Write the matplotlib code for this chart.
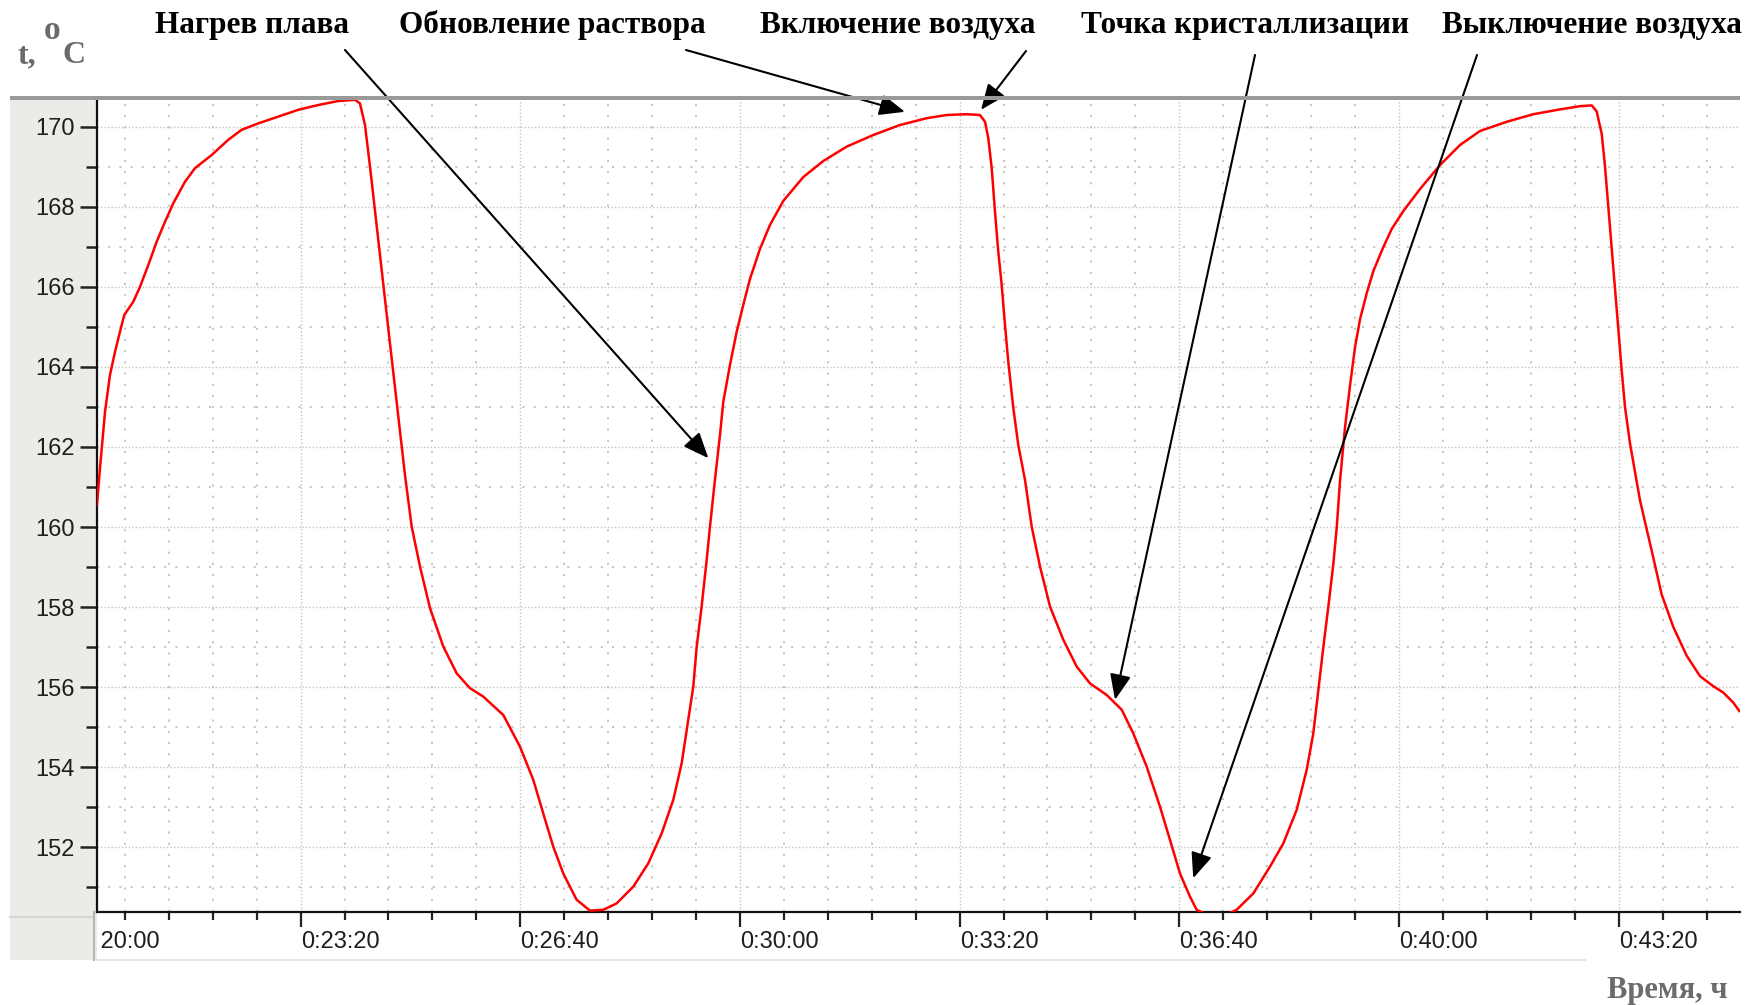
import matplotlib
matplotlib.use("Agg")
import matplotlib.pyplot as plt
from matplotlib.patches import Rectangle
from matplotlib.lines import Line2D
from matplotlib.transforms import Bbox, TransformedBbox, ScaledTranslation, blended_transform_factory

# temperature record of the melt, time in seconds from 0:00:00
time_sec = [
    1214.6, 1217.3, 1221.9, 1226.4, 1231.0, 1235.5, 1239.4, 1247.6, 1253.7, 1261.3,
    1268.9, 1276.5, 1284.0, 1294.7, 1303.8, 1319.0, 1334.1, 1346.3, 1361.4, 1379.6,
    1397.9, 1416.1, 1434.3, 1449.5, 1454.0, 1458.6, 1463.2, 1467.7, 1472.2, 1476.8,
    1481.3, 1485.9, 1490.5, 1495.0, 1501.1, 1508.7, 1517.8, 1529.9, 1542.1, 1554.2,
    1566.3, 1584.5, 1599.7, 1611.8, 1620.9, 1630.0, 1639.1, 1651.3, 1663.4, 1675.6,
    1687.7, 1702.9, 1716.5, 1728.7, 1739.3, 1746.9, 1752.9, 1757.5, 1760.6, 1765.1,
    1769.7, 1772.7, 1777.3, 1781.8, 1784.8, 1790.9, 1797.0, 1803.0, 1809.1, 1818.2,
    1827.3, 1839.4, 1857.7, 1875.9, 1897.2, 1921.4, 1945.7, 1970.0, 1988.2, 2006.4,
    2018.5, 2023.1, 2026.1, 2029.2, 2032.2, 2035.2, 2038.3, 2041.3, 2044.3, 2048.9,
    2053.4, 2059.5, 2065.6, 2073.2, 2082.3, 2094.4, 2106.6, 2118.7, 2133.9, 2147.6,
    2158.1, 2170.3, 2182.4, 2191.5, 2200.6, 2209.7, 2215.8, 2234.0, 2252.2, 2267.4,
    2282.6, 2294.7, 2306.9, 2316.0, 2322.0, 2326.6, 2331.2, 2335.7, 2340.3, 2343.4,
    2346.4, 2350.9, 2355.5, 2360.0, 2364.6, 2370.7, 2376.7, 2385.8, 2393.4, 2404.0,
    2419.2, 2437.4, 2455.6, 2473.8, 2498.1, 2522.3, 2546.6, 2564.8, 2575.5, 2580.0,
    2584.6, 2587.6, 2590.6, 2593.7, 2596.7, 2599.7, 2602.8, 2605.8, 2610.4, 2614.9,
    2619.5, 2625.6, 2631.6, 2639.2, 2649.8, 2662.0, 2674.1, 2686.2, 2695.3, 2704.4,
    2709.9,
]
temp_c = [
    160.56, 161.47, 162.88, 163.80, 164.38, 164.88, 165.30, 165.63, 166.00, 166.55,
    167.13, 167.63, 168.09, 168.63, 168.97, 169.30, 169.68, 169.93, 170.09, 170.26,
    170.43, 170.55, 170.65, 170.68, 170.59, 170.05, 169.00, 167.90, 166.80, 165.70,
    164.60, 163.50, 162.40, 161.30, 160.01, 159.01, 157.97, 157.01, 156.34, 155.97,
    155.76, 155.30, 154.51, 153.68, 152.84, 152.01, 151.34, 150.68, 150.41, 150.43,
    150.59, 151.01, 151.59, 152.34, 153.18, 154.09, 155.18, 156.01, 157.01, 158.01,
    159.18, 160.01, 161.20, 162.30, 163.13, 164.05, 164.88, 165.55, 166.20, 166.95,
    167.55, 168.15, 168.75, 169.15, 169.51, 169.80, 170.05, 170.22, 170.30, 170.32,
    170.30, 170.13, 169.72, 168.97, 167.88, 166.88, 166.05, 165.05, 164.13, 162.97,
    162.05, 161.18, 160.01, 159.01, 158.01, 157.18, 156.51, 156.09, 155.80, 155.43,
    154.84, 154.01, 153.01, 152.18, 151.34, 150.76, 150.43, 150.20, 150.43, 150.84,
    151.51, 152.09, 152.93, 153.93, 154.84, 155.93, 157.01, 158.01, 159.09, 160.01,
    161.18, 162.50, 163.55, 164.50, 165.20, 165.85, 166.40, 167.00, 167.45, 167.90,
    168.45, 169.05, 169.55, 169.90, 170.13, 170.32, 170.44, 170.52, 170.54, 170.39,
    169.83, 169.01, 168.00, 166.97, 165.96, 164.94, 163.91, 163.00, 162.08, 161.37,
    160.66, 159.94, 159.23, 158.31, 157.50, 156.78, 156.27, 156.02, 155.86, 155.61,
    155.40,
]

# axis ticks
xmajor_sec = [1400, 1600, 1800, 2000, 2200, 2400, 2600]
xminor_sec = list(range(1240, 2711, 40))
ymajor = [152, 154, 156, 158, 160, 162, 164, 166, 168, 170]
yminor = list(range(151, 171))

# process events and the points they refer to (time, temperature)
event_labels = ["Нагрев плава", "Обновление раствора", "Включение воздуха",
                "Точка кристаллизации", "Выключение воздуха"]
event_time = [1771.2, 1950.2, 2019.5, 2141.5, 2212.7]
event_temp = [161.72, 170.38, 170.43, 155.68, 151.22]

W, H = 1758, 1005


def fig_xy(x, y):
    # pixel position measured from the top-left corner -> figure fraction
    return x / W, 1 - y / H


def hms(sec):
    sec = int(round(sec))
    return f"{sec // 3600}:{sec % 3600 // 60:02d}:{sec % 60:02d}"


fig = plt.figure(figsize=(W / 100, H / 100), dpi=100)
fig.patch.set_facecolor("white")

left, top = fig_xy(97, 98)
right, bottom = fig_xy(1740, 912)
ax = fig.add_axes([left, bottom, right - left, top - bottom])
ax.set_facecolor("white")

# gray panel behind the value scale
px0, py0 = fig_xy(10, 960)
px1, py1 = fig_xy(97, 97)
fig.add_artist(Rectangle((px0, py0), px1 - px0, py1 - py0, transform=fig.transFigure,
                         facecolor="#ebebe7", edgecolor="none", zorder=-1))
for (xa, ya), (xb, yb), c in [((10, 917), (92, 917), "#d4d4d0"),
                               ((94, 912), (94, 960), "#b5b5b0"),
                               ((97, 960), (1585, 960), "#e4e4e4")]:
    x0, y0 = fig_xy(xa, ya)
    x1, y1 = fig_xy(xb, yb)
    fig.add_artist(Line2D([x0, x1], [y0, y1], transform=fig.transFigure, color=c, lw=1.5))

# thick gray bar along the top of the plot
bx0, by0 = fig_xy(10, 100.5)
bx1, by1 = fig_xy(1740, 96)
fig.add_artist(Rectangle((bx0, by0), bx1 - bx0, by1 - by0, transform=fig.transFigure,
                         facecolor="#9a9a9a", edgecolor="none", zorder=5))

ax.set_xlim(1214.6, 2710.5)
ax.set_ylim(150.375, 170.725)

# dotted grid
for t in xminor_sec:
    major = t in xmajor_sec
    ax.axvline(t, color="#c4c4bc", lw=1.0 if major else 1.3,
               ls=(0, (1, 1.5)) if major else (0, (1.2, 5)), zorder=0)
for v in yminor:
    major = v in ymajor
    ax.axhline(v, color="#c4c4bc", lw=1.0 if major else 1.3,
               ls=(0, (1, 1.5)) if major else (0, (1.2, 5)), zorder=0)

ax.plot(time_sec, temp_c, color="#ff0000", lw=1.8, zorder=3, solid_joinstyle="round")

for s in ("top", "right"):
    ax.spines[s].set_visible(False)
for s in ("left", "bottom"):
    ax.spines[s].set_color("#111111")
    ax.spines[s].set_linewidth(1.6)

ax.set_yticks(ymajor)
ax.set_yticks(yminor, minor=True)
ax.set_yticklabels([str(v) for v in ymajor])
ax.set_xticks(xmajor_sec)
ax.set_xticks(xminor_sec, minor=True)
ax.set_xticklabels([hms(t) for t in xmajor_sec])

sans = ["Liberation Sans", "DejaVu Sans"]
ax.tick_params(axis="y", which="major", length=12, width=1.8, color="#222222",
               pad=4, labelsize=17, labelcolor="#1e1e1e")
ax.tick_params(axis="y", which="minor", length=8, width=1.8, color="#222222")
ax.tick_params(axis="x", which="major", length=11, width=1.6, color="#222222",
               pad=2.5, labelsize=17, labelcolor="#1e1e1e")
ax.tick_params(axis="x", which="minor", length=5.5, width=1.6, color="#222222")
for lbl in ax.get_yticklabels() + ax.get_xticklabels():
    lbl.set_fontfamily(sans)
for lbl in ax.get_xticklabels():
    lbl.set_horizontalalignment("left")

# first time label is cut off by the left panel
first = ax.text(1200, 0, hms(1200), ha="left", va="top", fontsize=17,
                color="#1e1e1e", family=sans,
                transform=blended_transform_factory(ax.transData, ax.transAxes)
                + ScaledTranslation(0, -(11 + 2.5) / 72, fig.dpi_scale_trans))
first.set_clip_box(TransformedBbox(Bbox.from_extents(0.0022, -0.2, 1.2, 0), ax.transAxes))
first.set_clip_on(True)

# event captions with arrows pointing at the curve
serif = ["Liberation Serif", "DejaVu Serif"]
label_x = [252, 552, 898, 1245, 1592]
tail_xy = [(345, 50), (686, 50), (1026, 51), (1255, 55), (1477, 55)]
for text, lx, t, v, (tx, ty) in zip(event_labels, label_x, event_time, event_temp, tail_xy):
    fx, fy = fig_xy(lx, 25)
    fig.text(fx, fy, text, ha="center", va="center", fontsize=22.5,
             fontweight="bold", family=serif, color="black")
    ax.annotate("", xy=(t, v), xytext=fig_xy(tx, ty), textcoords="figure fraction",
                arrowprops=dict(arrowstyle="-|>,head_length=0.65,head_width=0.27",
                                mutation_scale=24, color="black", lw=1.5,
                                shrinkA=0, shrinkB=0),
                annotation_clip=False, zorder=6)

# axis captions
gray = "#6b6b6b"
fig.text(*fig_xy(17, 63), "t,", ha="left", va="baseline", fontsize=23,
         fontweight="bold", family=serif, color=gray)
fig.text(*fig_xy(44, 39), "o", ha="left", va="baseline", fontsize=24,
         fontweight="bold", family=serif, color=gray)
fig.text(*fig_xy(63, 63), "C", ha="left", va="baseline", fontsize=23,
         fontweight="bold", family=serif, color=gray)
fig.text(*fig_xy(1607, 998), "Время, ч", ha="left", va="baseline", fontsize=22,
         fontweight="bold", family=serif, color=gray)

fig.savefig("out.png", dpi=100, facecolor="white")
